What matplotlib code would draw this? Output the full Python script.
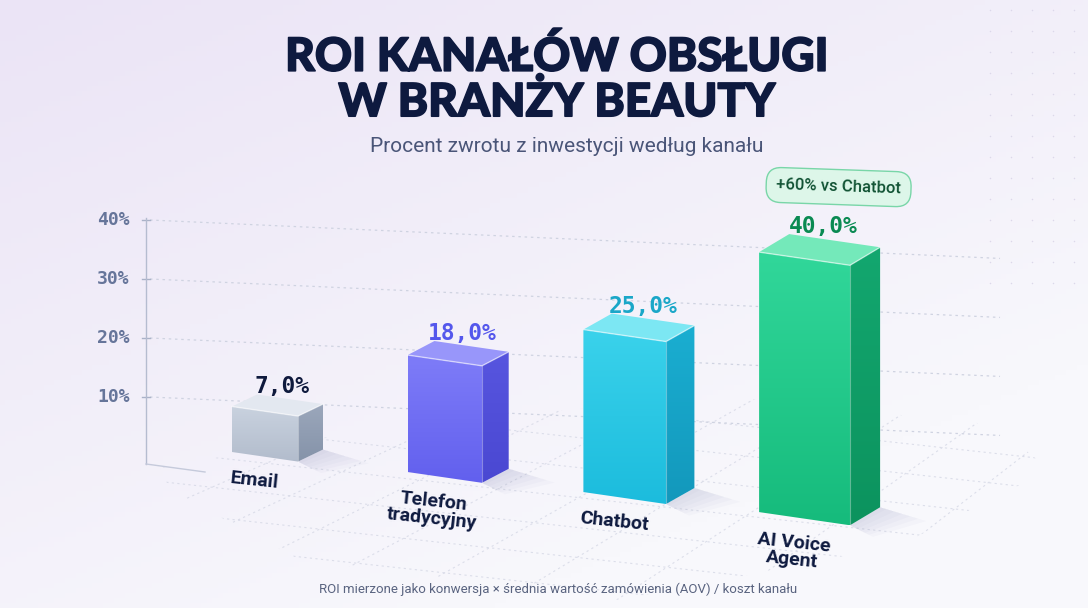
import numpy as np
import matplotlib
matplotlib.use("Agg")
import matplotlib.pyplot as plt
from matplotlib.patches import Polygon
from matplotlib.colors import to_rgb
import matplotlib.patheffects as pe

# Data
channels = ["Email", "Telefon\ntradycyjny", "Chatbot", "AI Voice\nAgent"]
roi = [7.0, 18.0, 25.0, 40.0]
y_ticks = [10, 20, 30, 40]
badge_text = "+60% vs Chatbot"

title = "ROI KANAŁÓW OBSŁUGI\nW BRANŻY BEAUTY"
subtitle = "Procent zwrotu z inwestycji według kanału"
footnote = "ROI mierzone jako konwersja × średnia wartość zamówienia (AOV) / koszt kanału"

# colours per bar: front top, front bottom, side top, side bottom, top face, label
bar_colors = [
    ("#c9d2df", "#b2bccc", "#9ba7bb", "#8593a9", "#e3e8f0", "#0f1a3d"),
    ("#7e7cf8", "#6260ee", "#5755df", "#4a48d2", "#9896fa", "#5457ec"),
    ("#3ad2eb", "#1cbcdd", "#1aaed1", "#1398bc", "#7ce7f3", "#1aa7c8"),
    ("#31d79a", "#16bb7c", "#13a76f", "#0c935e", "#74e9ba", "#0a8a52"),
]

NAVY = "#0e1a3f"
W, H = 1088, 608


def grad_fill(ax, verts, c1, c2, zorder):
    verts = np.asarray(verts)
    xmin, ymin = verts.min(axis=0)
    xmax, ymax = verts.max(axis=0)
    t = np.linspace(0, 1, 64)[:, None]
    img = (1 - t) * np.array(to_rgb(c1)) + t * np.array(to_rgb(c2))
    img = img[:, None, :]
    poly = Polygon(verts, closed=True, facecolor="none", edgecolor="none")
    ax.add_patch(poly)
    im = ax.imshow(img, extent=(xmin, xmax, ymax, ymin), origin="upper",
                   aspect="auto", zorder=zorder, interpolation="bilinear")
    im.set_clip_path(poly)


fig = plt.figure(figsize=(W / 100, H / 100), dpi=100)
ax = fig.add_axes([0, 0, 1, 1])
ax.axis("off")

# background gradient
gx, gy = np.meshgrid(np.linspace(0, 1, 200), np.linspace(0, 1, 120))
g = np.clip(0.55 * gx + 0.75 * gy, 0, 1)[..., None]
bg = (1 - g) * np.array(to_rgb("#ebe4f6")) + g * np.array(to_rgb("#f8f8fc"))
ax.imshow(bg, extent=(0, W, H, 0), origin="upper", aspect="auto", zorder=0)

# faint dot pattern top right
dx_, dy_ = np.meshgrid(np.arange(990, W, 21), np.arange(10, 290, 21))
ax.scatter(dx_.ravel(), dy_.ravel(), s=1.2, color="#dcd8ea", zorder=1, linewidths=0)

# axis scale (pixels)
axis_x = 146
zero_y = 456
px_axis = 5.9
px_bar = 6.5

# floor grid
floor = Polygon([(160, 468), (420, 420), (740, 398), (995, 425), (1050, 470),
                 (900, 545), (620, 600), (300, 560), (170, 490)],
                closed=True, facecolor="none", edgecolor="none")
ax.add_patch(floor)
grid_kw = dict(color="#d3d6e4", lw=0.8, ls=(0, (2, 3)), zorder=2, alpha=0.75)
xs = np.array([100, 1100])
for c in np.arange(330, 600, 30):
    ln, = ax.plot(xs, c + 0.11 * (xs - 146), **grid_kw)
    ln.set_clip_path(floor)
vp = np.array([2000, -300])
for x_start in np.arange(-250, 1150, 115):
    ln, = ax.plot([x_start, vp[0]], [640, vp[1]], **grid_kw)
    ln.set_clip_path(floor)

# horizontal gridlines + y axis
for v in y_ticks:
    y = zero_y - px_axis * v
    ax.plot([axis_x + 4, 1000], [y, y + 0.045 * (1000 - axis_x)], color="#cfd3e1",
            lw=0.9, ls=(0, (2, 3)), zorder=2)
    ax.plot([axis_x - 4, axis_x + 4], [y, y], color="#aab2c8", lw=1.0, zorder=3)
    ax.text(axis_x - 16, y, f"{v}%", ha="right", va="center", fontsize=13,
            family="DejaVu Sans Mono", fontweight="bold", color="#66759a", zorder=3)
ax.plot([axis_x, axis_x], [zero_y - px_axis * max(y_ticks) - 2, 464], color="#b5bcd0",
        lw=1.0, zorder=3)
ax.plot([axis_x, 205], [464, 472], color="#c5cadb", lw=1.0, zorder=3)

# bars
slope = 0.145
for i, (name, v) in enumerate(zip(channels, roi)):
    ftop, fbot, stop, sbot, topc, lab = bar_colors[i]
    x0 = 232 + 175.7 * i
    yb = 452 + 0.114 * (x0 - 232)
    w = 66 + 8.3 * i
    ddx = 25 + 1.7 * i
    ddy = 12 + 2 * i
    h = v * px_bar
    yr = yb + slope * w

    # soft shadow on the floor
    for k in range(6):
        e = 6 + 8 * k
        sh = Polygon([(x0 + w, yr), (x0 + w + ddx, yr - ddy),
                      (x0 + w + ddx + e, yr - ddy + e * 0.3),
                      (x0 + w + e * 0.5, yr + e * 0.25)],
                     closed=True, facecolor="#7478ae", alpha=0.035,
                     edgecolor="none", zorder=3)
        ax.add_patch(sh)

    front = [(x0, yb), (x0 + w, yr), (x0 + w, yr - h), (x0, yb - h)]
    side = [(x0 + w, yr), (x0 + w + ddx, yr - ddy), (x0 + w + ddx, yr - ddy - h),
            (x0 + w, yr - h)]
    top = [(x0, yb - h), (x0 + w, yr - h), (x0 + w + ddx, yr - ddy - h),
           (x0 + ddx, yb - ddy - h)]
    grad_fill(ax, front, ftop, fbot, 4)
    grad_fill(ax, side, stop, sbot, 4)
    ax.add_patch(Polygon(top, closed=True, facecolor=topc, edgecolor="none", zorder=4))
    ax.plot([x0, x0 + w, x0 + w + ddx], [yb - h, yr - h, yr - ddy - h],
            color="white", lw=1.0, alpha=0.55, zorder=5)
    ax.plot([x0 + w, x0 + w], [yr - h, yr], color="white", lw=0.8, alpha=0.35, zorder=5)

    # value label
    lx = x0 + (w + ddx) / 2 + 4
    ly = yb - ddy - h - 1
    ax.text(lx, ly, f"{v:.1f}%".replace(".", ","), ha="center", va="baseline",
            fontsize=16.5, fontweight="bold", family="DejaVu Sans Mono",
            color=lab, zorder=6)

    # category label
    ax.text(x0 + w / 2 - 10, yb + slope * w / 2 + 15, name, ha="center", va="top",
            rotation=-6, rotation_mode="anchor", multialignment="center",
            fontsize=14, fontweight="bold", family="Roboto", color=NAVY,
            linespacing=0.95, zorder=6)

    if i == len(roi) - 1:
        bx, by = lx + 15, ly - 46
        ax.text(bx, by, badge_text, ha="center", va="center", fontsize=12,
                family="Roboto", fontweight="medium", color="#0f5132", rotation=-2,
                zorder=7,
                bbox=dict(boxstyle="round,pad=0.6,rounding_size=0.9",
                          facecolor="#ddf6e9", edgecolor="#79d6a8", lw=1.0))

# titles
ax.text(557, 80, title, ha="center", va="center", fontsize=33, fontweight="black",
        family="Lato", color=NAVY, linespacing=1.1, zorder=6,
        path_effects=[pe.withStroke(linewidth=1.2, foreground=NAVY)])
ax.text(567, 146, subtitle, ha="center", va="center", fontsize=15,
        family="Roboto", color="#4a5578", zorder=6)
ax.text(558, 589, footnote, ha="center", va="center", fontsize=9.5,
        family="Roboto", color="#5a6480", zorder=6)

ax.set_xlim(0, W)
ax.set_ylim(H, 0)
fig.savefig("out.png", dpi=100)
